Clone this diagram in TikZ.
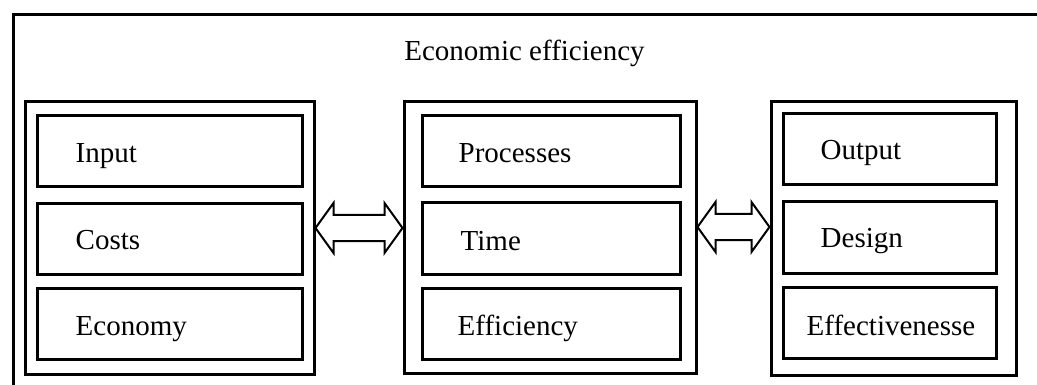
\documentclass[tikz,border=0pt]{standalone}
\usepackage{fontspec}
\setmainfont{Liberation Serif}
\usetikzlibrary{calc}
% hollow double-headed block arrow between two named points
\newcommand\twowayarrow[2]{%
  \draw[blockarrow] let \p1=(#1), \p2=(#2) in
    (\x1,\y1) -- (\x1+18pt,\y1+25pt) -- (\x1+18pt,\y1+13pt)
    -- (\x2-18pt,\y1+13pt) -- (\x2-18pt,\y1+25pt) -- (\x2,\y1)
    -- (\x2-18pt,\y1-25pt) -- (\x2-18pt,\y1-13pt)
    -- (\x1+18pt,\y1-13pt) -- (\x1+18pt,\y1-25pt) -- cycle;}
\begin{document}
\begin{tikzpicture}[x=1pt,y=-1pt,
  frame/.style={draw, line width=3pt, inner sep=0pt},
  grp/.style={draw, line width=3pt, inner sep=0pt},
  cell/.style={draw, line width=3pt, inner sep=0pt, minimum height=71pt},
  lcell/.style={cell, minimum width=265pt},
  mcell/.style={cell, minimum width=258pt},
  rcell/.style={cell, minimum width=213pt},
  lbl/.style={anchor=base west, inner sep=0pt, font=\fontsize{29}{34}\selectfont},
  blockarrow/.style={draw, line width=2pt, fill=white, line join=miter}
]
\useasboundingbox (0,0) rectangle (1037,385);
\clip (0,0) rectangle (1037,385);

% outer frame, running past the right and bottom edges
\node[frame, minimum width=1060pt, minimum height=420pt, anchor=north west] (outer) at (12,13) {};
\node[lbl, anchor=base] (title) at (524.5,61) {Economic efficiency};

% three groups
\node[grp, minimum width=289pt, minimum height=272pt] (lgrp) at (169.5,238) {};
\node[grp, minimum width=292pt, minimum height=271pt] (mgrp) at (550,237.5) {};
\node[grp, minimum width=245pt, minimum height=273pt] (rgrp) at (893.5,238.5) {};

% left group cells
\node[lcell] (bIn) at (169.5,151.5) {};
\node[lcell] (bCo) at (169.5,239) {};
\node[lcell] (bEc) at (169.5,324) {};
\node[lbl] (tIn) at ([xshift=40pt,yshift=-11pt]bIn.west) {Input};
\node[lbl] (tCo) at ([xshift=40pt,yshift=-11pt]bCo.west) {Costs};
\node[lbl] (tEc) at ([xshift=40pt,yshift=-11pt]bEc.west) {Economy};

% middle group cells
\node[mcell] (bPr) at (551,151.5) {};
\node[mcell] (bTi) at (551,238.5) {};
\node[mcell] (bEf) at (551,324) {};
\node[lbl] (tPr) at ([xshift=38pt,yshift=-11.5pt]bPr.west) {Processes};
\node[lbl] (tTi) at ([xshift=40pt,yshift=-12pt]bTi.west) {Time};
\node[lbl] (tEf) at ([xshift=37pt,yshift=-11pt]bEf.west) {Efficiency};

% right group cells
\node[rcell] (bOu) at (889.5,149) {};
\node[rcell] (bDe) at (889.5,237.5) {};
\node[rcell] (bEv) at (889.5,323) {};
\node[lbl] (tOu) at ([xshift=39pt,yshift=-11pt]bOu.west) {Output};
\node[lbl] (tDe) at ([xshift=39pt,yshift=-10pt]bDe.west) {Design};
\node[lbl] (tEv) at ([xshift=25pt,yshift=-12pt]bEv.west) {Effectivenesse};

% connectors between the groups
\coordinate (a1) at ([yshift=10pt]lgrp.east);
\coordinate (a2) at ([yshift=10pt]mgrp.west);
\coordinate (a3) at ([yshift=10.5pt]mgrp.east);
\coordinate (a4) at (rgrp.west |- a3);
\twowayarrow{a1}{a2}
\twowayarrow{a3}{a4}
\end{tikzpicture}
\end{document}
